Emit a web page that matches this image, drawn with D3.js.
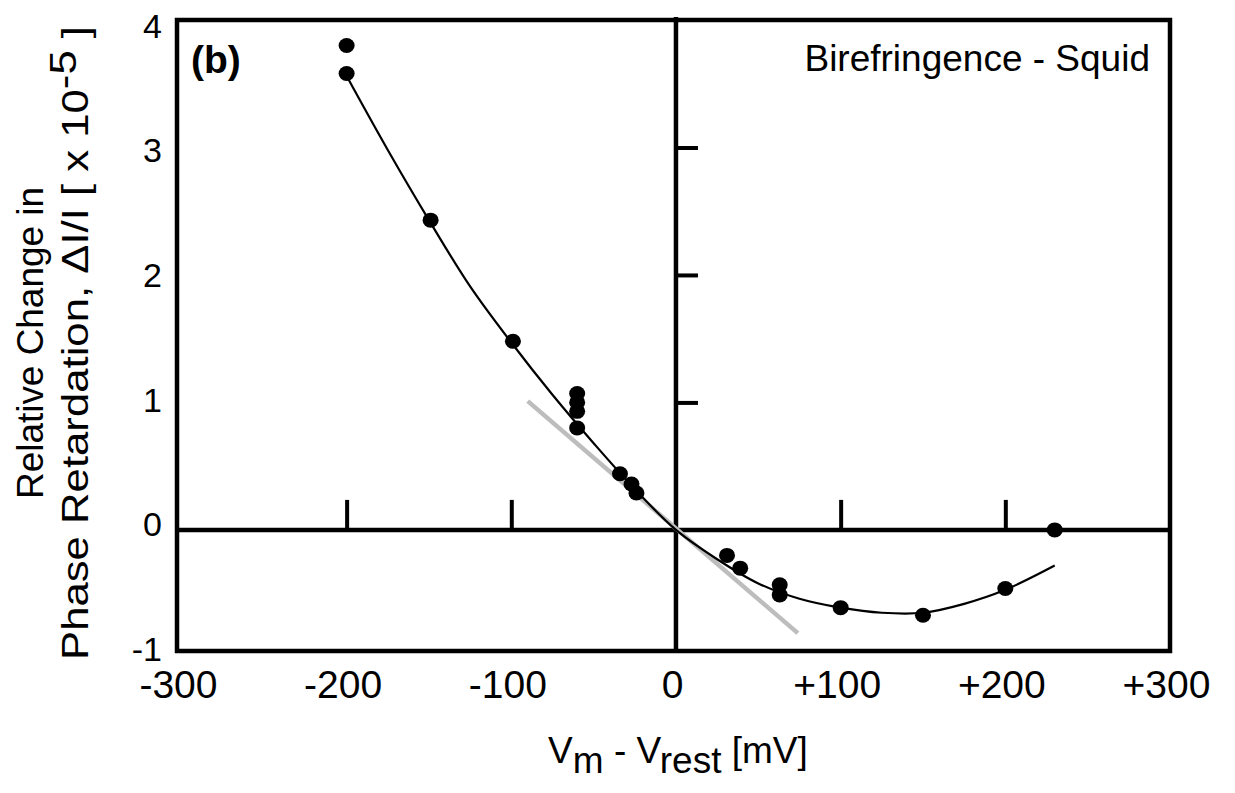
<!DOCTYPE html>
<html><head><meta charset="utf-8">
<script src="https://cdn.jsdelivr.net/npm/d3@7"></script>
<style>
body{margin:0;background:#fff;}
svg{display:block;}
text{font-family:"Liberation Sans",Arial,Helvetica,sans-serif;fill:#000;}
</style>
</head><body>
<svg id="c" width="1235" height="793"></svg>
<script>
// ---- data ----
const pointX = [-200, -200, -149, -99, -60, -60, -60, -60, -34, -27, -24, 31, 39, 63, 63, 100, 150, 200, 230];
const pointY = [3.80, 3.58, 2.43, 1.48, 1.07, 1.00, 0.93, 0.80, 0.44, 0.36, 0.29, -0.20, -0.30, -0.43, -0.51, -0.61, -0.67, -0.46, 0.00];
const curveX = [-200, -175, -150, -125, -100, -75, -50, -25, 0, 25, 50, 75, 100, 125, 150, 175, 200, 230];
const curveY = [3.56, 2.98, 2.43, 1.91, 1.47, 1.06, 0.68, 0.32, 0.00, -0.23, -0.42, -0.54, -0.61, -0.65, -0.65, -0.58, -0.47, -0.28];
const tangentX = [-90, 74];
const tangentY = [1.01, -0.81];
const xTickValues = [-300, -200, -100, 0, 100, 200, 300];
const xTickLabels = ["-300", "-200", "-100", "0", "+100", "+200", "+300"];
const yTickValues = [-1, 0, 1, 2, 3, 4];
const yTickLabels = ["-1", "0", "1", "2", "3", "4"];
const innerXTicks = [-200, -100, 100, 200];
const innerYTicks = [1, 2, 3];

// ---- scales ----
const svg = d3.select("#c");
const x = d3.scaleLinear().domain([-303, 300]).range([177, 1170]);
const y = d3.scaleLinear().domain([-0.95, 4]).range([651, 20]);
// label placement scale for the outer y tick labels (slightly compressed as in the figure)
const yLab = d3.scaleLinear().domain([-1, 4]).range([648, 25]);

// frame
svg.append("rect")
  .attr("x", x.range()[0]).attr("y", y.range()[1])
  .attr("width", x.range()[1] - x.range()[0])
  .attr("height", y.range()[0] - y.range()[1])
  .attr("fill", "none").attr("stroke", "#000").attr("stroke-width", 4.5);

// main axes (through origin)
svg.append("line")
  .attr("x1", x.range()[0]).attr("x2", x.range()[1])
  .attr("y1", y(0)).attr("y2", y(0))
  .attr("stroke", "#000").attr("stroke-width", 4.5);
svg.append("line")
  .attr("x1", x(0)).attr("x2", x(0))
  .attr("y1", y.range()[1] - 3).attr("y2", y.range()[0])
  .attr("stroke", "#000").attr("stroke-width", 4.5);

// inner ticks
const axTop = svg.append("g").attr("transform", `translate(0,${y(0)})`)
  .call(d3.axisTop(x).tickValues(innerXTicks).tickSize(30).tickFormat(""));
axTop.select(".domain").remove();
axTop.selectAll(".tick line").attr("stroke", "#000").attr("stroke-width", 4);

const axRight = svg.append("g").attr("transform", `translate(${x(0)},0)`)
  .call(d3.axisRight(y).tickValues(innerYTicks).tickSize(22).tickFormat(""));
axRight.select(".domain").remove();
axRight.selectAll(".tick line").attr("stroke", "#000").attr("stroke-width", 4);

// tick labels
const axB = svg.append("g").attr("transform", `translate(-4,${y.range()[0] + 3})`)
  .call(d3.axisBottom(x).tickValues(xTickValues).tickSize(0)
    .tickFormat((d, i) => xTickLabels[i]));
axB.select(".domain").remove();
axB.selectAll("text").attr("font-size", 39).attr("dy", "1.05em")
  .style("font-family", '"Liberation Sans",Arial,sans-serif');

const axL = svg.append("g").attr("transform", `translate(${x.range()[0] - 12},0)`)
  .call(d3.axisLeft(yLab).tickValues(yTickValues).tickSize(0)
    .tickFormat((d, i) => yTickLabels[i]));
axL.select(".domain").remove();
axL.selectAll("text").attr("font-size", 34).attr("dy", "0.36em")
  .style("font-family", '"Liberation Sans",Arial,sans-serif');

// tangent (gray) line
const lineGen = d3.line().x(d => x(d[0])).y(d => y(d[1]));
svg.append("path")
  .datum(tangentX.map((v, i) => [v, tangentY[i]]))
  .attr("d", lineGen)
  .attr("fill", "none").attr("stroke", "#bdbdbd").attr("stroke-width", 4.5);

// fitted curve
svg.append("path")
  .datum(curveX.map((v, i) => [v, curveY[i]]))
  .attr("d", lineGen.curve(d3.curveCatmullRom.alpha(0.5)))
  .attr("fill", "none").attr("stroke", "#000").attr("stroke-width", 2.2);

// data points
svg.append("g").selectAll("ellipse")
  .data(pointX.map((v, i) => [v, pointY[i]]))
  .join("ellipse")
  .attr("cx", d => x(d[0])).attr("cy", d => y(d[1]))
  .attr("rx", 8).attr("ry", 7.5).attr("fill", "#000");

// panel label
svg.append("text").attr("x", x.range()[0] + 14).attr("y", 73)
  .attr("font-size", 39).attr("font-weight", "bold").text("(b)");

svg.append("text").attr("x", x.range()[1] - 20).attr("y", 71)
  .attr("text-anchor", "end").attr("font-size", 37).text("Birefringence - Squid");

// x title
const xt = svg.append("text").attr("x", x(0) + 2).attr("y", 763)
  .attr("text-anchor", "middle").attr("font-size", 37);
xt.append("tspan").text("V");
xt.append("tspan").attr("dy", 10).text("m");
xt.append("tspan").attr("dy", -10).text(" - V");
xt.append("tspan").attr("dy", 10).text("rest");
xt.append("tspan").attr("dy", -10).text(" [mV]");

// y title
const yt = svg.append("g").attr("transform", "translate(0,343) rotate(-90)");
yt.append("text").attr("x", 0).attr("y", 43).attr("text-anchor", "middle")
  .attr("font-size", 36).attr("textLength", 312).attr("lengthAdjust", "spacingAndGlyphs")
  .text("Relative Change in");
const y2 = yt.append("text").attr("x", 0).attr("y", 88).attr("text-anchor", "middle")
  .attr("font-size", 36).attr("textLength", 634).attr("lengthAdjust", "spacingAndGlyphs");
y2.append("tspan").text("Phase Retardation, \u0394I/I [ x 10");
y2.append("tspan").attr("dy", -12).text("-5");
y2.append("tspan").attr("dy", 12).text(" ]");
</script>
</body></html>
